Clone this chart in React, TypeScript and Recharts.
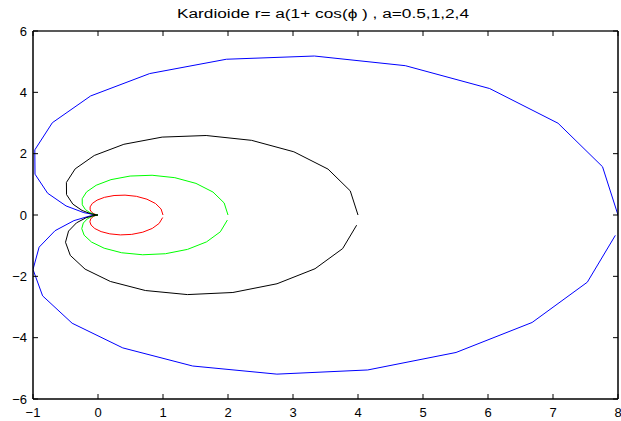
import { LineChart, Line, XAxis, YAxis } from "recharts";

// Cardioid vertices (phi = 0 .. 6.2, 32 points per curve)
const X_05 = [1.0, 0.97, 0.885, 0.753, 0.591, 0.416, 0.247, 0.099, -0.014, -0.088, -0.121, -0.121, -0.097, -0.061, -0.027, -0.005, -0.001, -0.016, -0.046, -0.083, -0.113, -0.125, -0.106, -0.05, 0.048, 0.182, 0.344, 0.519, 0.689, 0.835, 0.941, 0.995];
const Y_05 = [0.0, 0.197, 0.374, 0.515, 0.609, 0.648, 0.635, 0.576, 0.485, 0.376, 0.265, 0.166, 0.089, 0.037, 0.01, 0.001, 0.0, -0.004, -0.023, -0.064, -0.131, -0.222, -0.33, -0.441, -0.542, -0.615, -0.649, -0.632, -0.56, -0.438, -0.274, -0.083];

const X_1 = [2.0, 1.941, 1.769, 1.507, 1.182, 0.832, 0.494, 0.199, -0.028, -0.176, -0.243, -0.242, -0.194, -0.123, -0.054, -0.01, -0.002, -0.032, -0.093, -0.165, -0.226, -0.25, -0.213, -0.1, 0.095, 0.364, 0.688, 1.038, 1.377, 1.67, 1.882, 1.99];
const Y_1 = [0.0, 0.393, 0.748, 1.031, 1.217, 1.296, 1.27, 1.153, 0.97, 0.753, 0.531, 0.333, 0.177, 0.074, 0.019, 0.001, 0.0, -0.008, -0.046, -0.128, -0.262, -0.444, -0.659, -0.882, -1.083, -1.231, -1.297, -1.263, -1.121, -0.876, -0.548, -0.166];

const X_2 = [4.0, 3.881, 3.539, 3.013, 2.364, 1.664, 0.987, 0.398, -0.057, -0.351, -0.486, -0.484, -0.387, -0.245, -0.109, -0.02, -0.003, -0.064, -0.185, -0.331, -0.453, -0.5, -0.426, -0.199, 0.19, 0.728, 1.376, 2.075, 2.754, 3.339, 3.764, 3.979];
const Y_2 = [0.0, 0.787, 1.496, 2.061, 2.434, 2.592, 2.54, 2.306, 1.941, 1.505, 1.062, 0.665, 0.355, 0.148, 0.039, 0.003, 0.0, -0.017, -0.091, -0.256, -0.524, -0.889, -1.318, -1.765, -2.167, -2.462, -2.595, -2.527, -2.242, -1.752, -1.095, -0.332];

const X_4 = [8.0, 7.762, 7.078, 6.026, 4.728, 3.329, 1.975, 0.795, -0.113, -0.702, -0.972, -0.969, -0.775, -0.491, -0.218, -0.04, -0.007, -0.128, -0.37, -0.661, -0.906, -1.0, -0.852, -0.398, 0.381, 1.456, 2.752, 4.15, 5.508, 6.679, 7.528, 7.959];
const Y_4 = [0.0, 1.574, 2.992, 4.123, 4.869, 5.184, 5.079, 4.612, 3.882, 3.01, 2.124, 1.331, 0.71, 0.295, 0.077, 0.006, 0.0, -0.034, -0.183, -0.512, -1.049, -1.777, -2.637, -3.529, -4.333, -4.924, -5.189, -5.053, -4.483, -3.504, -2.191, -0.664];

const X_TICKS = [-1, 0, 1, 2, 3, 4, 5, 6, 7, 8];
const Y_TICKS = [-6, -4, -2, 0, 2, 4, 6];
const TITLE = "Kardioide r= a(1+ cos(\u03d5 ) , a=0.5,1,2,4";

const FONT = "'Liberation Sans', Arial, Helvetica, sans-serif";
const TICK_LEN = 5;

const zip = (xs: number[], ys: number[]) => xs.map((x, i) => ({ x, y: ys[i] }));

const SERIES = [
  { name: "a=4", color: "#0000ff", data: zip(X_4, Y_4) },
  { name: "a=0.5", color: "#ff0000", data: zip(X_05, Y_05) },
  { name: "a=1", color: "#00ff00", data: zip(X_1, Y_1) },
  { name: "a=2", color: "#000000", data: zip(X_2, Y_2) },
];

const fmt = (v: number) => (v < 0 ? "\u2212" + Math.abs(v) : String(v));

// ticks point into the plot, MATLAB style
function BottomTick({ x, y, payload }: any) {
  const ay = y - 9;
  return (
    <g>
      <line x1={x} y1={ay} x2={x} y2={ay - TICK_LEN} stroke="#000" />
      <text x={x} y={y} dy="0.71em" textAnchor="middle" fontSize={13} fontFamily={FONT} fill="#000">
        {fmt(payload.value)}
      </text>
    </g>
  );
}

function LeftTick({ x, y, payload }: any) {
  const ax = x + 6;
  return (
    <g>
      <line x1={ax} y1={y} x2={ax + TICK_LEN} y2={y} stroke="#000" />
      <text x={x} y={y} dy="0.355em" textAnchor="end" fontSize={13} fontFamily={FONT} fill="#000">
        {fmt(payload.value)}
      </text>
    </g>
  );
}

function TopTick({ x, y }: any) {
  const ay = y + 2;
  return <line x1={x} y1={ay} x2={x} y2={ay + TICK_LEN} stroke="#000" />;
}

function RightTick({ x, y }: any) {
  const ax = x - 2;
  return <line x1={ax} y1={y} x2={ax - TICK_LEN} y2={y} stroke="#000" />;
}

export default function App() {
  return (
    <div style={{ position: "absolute", left: 0, top: 0, width: 621, height: 421, background: "#fff" }}>
      <LineChart width={621} height={421} margin={{ top: 0, right: 0, bottom: 0, left: 0 }}>
        <XAxis
          xAxisId="b" type="number" dataKey="x" domain={[-1, 8]} ticks={X_TICKS} allowDataOverflow
          interval={0} height={22} tickSize={0} tickMargin={9} tickLine={false}
          axisLine={{ stroke: "#000", strokeWidth: 1.5 }} tick={<BottomTick />}
        />
        <XAxis
          xAxisId="t" orientation="top" type="number" dataKey="x" domain={[-1, 8]} ticks={X_TICKS} allowDataOverflow
          interval={0} height={31} tickSize={0} tickMargin={2} tickLine={false}
          axisLine={{ stroke: "#222", strokeWidth: 1.5 }} tick={<TopTick />}
        />
        <YAxis
          yAxisId="l" type="number" domain={[-6, 6]} ticks={Y_TICKS} allowDataOverflow
          interval={0} width={33} tickSize={0} tickMargin={6} tickLine={false}
          axisLine={{ stroke: "#000", strokeWidth: 1.5 }} tick={<LeftTick />}
        />
        <YAxis
          yAxisId="r" orientation="right" type="number" domain={[-6, 6]} ticks={Y_TICKS} allowDataOverflow
          interval={0} width={3} tickSize={0} tickMargin={2} tickLine={false}
          axisLine={{ stroke: "#000", strokeWidth: 1.5 }} tick={<RightTick />}
        />
        {SERIES.map((s) => (
          <Line
            key={s.name}
            xAxisId="b"
            yAxisId="l"
            data={s.data}
            dataKey="y"
            type="linear"
            stroke={s.color}
            strokeWidth={1}
            dot={false}
            activeDot={false}
            isAnimationActive={false}
          />
        ))}
      </LineChart>
      <svg width={621} height={30} style={{ position: "absolute", left: 0, top: 0 }}>
        <text
          x={177} y={18} fontSize={12.5} fontFamily={FONT} fill="#000"
          textLength={292} lengthAdjust="spacingAndGlyphs"
        >
          {TITLE}
        </text>
      </svg>
    </div>
  );
}
